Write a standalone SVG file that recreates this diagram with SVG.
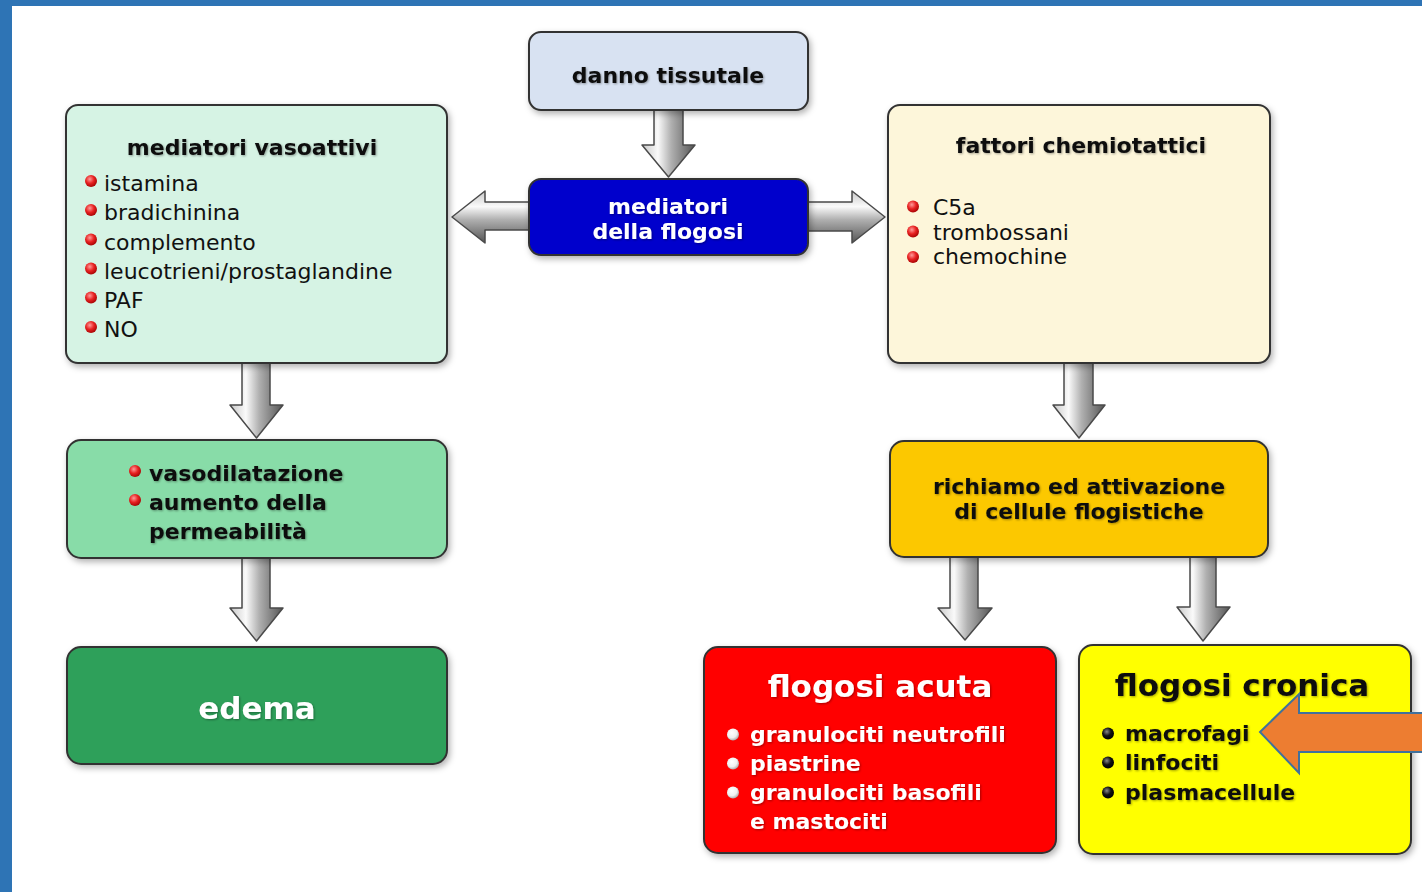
<svg xmlns="http://www.w3.org/2000/svg" width="1422" height="892" viewBox="0 0 1422 892">
<defs>
<style>
.box{stroke:#333;stroke-width:2}
.t{font-family:"DejaVu Sans","Liberation Sans",sans-serif;font-size:22px}
.b{font-weight:bold}
.big{font-size:31px;font-weight:bold}
.arr{stroke:#4a4a4a;stroke-width:1.5;stroke-linejoin:round}
.v{fill:url(#gv)}
.h{fill:url(#gh)}
</style>
<filter id="sh" x="-10%" y="-10%" width="125%" height="130%">
<feDropShadow dx="2" dy="3" stdDeviation="3" flood-color="#000" flood-opacity="0.3"/>
</filter>
<filter id="ts" x="-5%" y="-20%" width="110%" height="150%">
<feDropShadow dx="1" dy="1" stdDeviation="1" flood-color="#000" flood-opacity="0.35"/>
</filter>
<linearGradient id="gv" x1="0" y1="0" x2="1" y2="0">
<stop offset="0" stop-color="#c8c8c8"/>
<stop offset="0.3" stop-color="#fafafa"/>
<stop offset="0.55" stop-color="#b0b0b0"/>
<stop offset="1" stop-color="#555"/>
</linearGradient>
<linearGradient id="gh" x1="0" y1="0" x2="0" y2="1">
<stop offset="0" stop-color="#c8c8c8"/>
<stop offset="0.3" stop-color="#fafafa"/>
<stop offset="0.55" stop-color="#b0b0b0"/>
<stop offset="1" stop-color="#555"/>
</linearGradient>
<radialGradient id="red" cx="0.4" cy="0.35" r="0.7">
<stop offset="0" stop-color="#ff9a9a"/>
<stop offset="0.5" stop-color="#e82222"/>
<stop offset="1" stop-color="#a00000"/>
</radialGradient>
<radialGradient id="wht" cx="0.4" cy="0.35" r="0.7">
<stop offset="0" stop-color="#ffffff"/>
<stop offset="0.6" stop-color="#f0f0f0"/>
<stop offset="1" stop-color="#a0a0a0"/>
</radialGradient>
<radialGradient id="blk" cx="0.4" cy="0.35" r="0.7">
<stop offset="0" stop-color="#888"/>
<stop offset="0.5" stop-color="#111"/>
<stop offset="1" stop-color="#000"/>
</radialGradient>
</defs>

<rect x="0" y="0" width="1422" height="892" fill="#fff"/>
<rect x="0" y="0" width="1422" height="6" fill="#2E74B5"/>
<rect x="0" y="0" width="12" height="892" fill="#2E74B5"/>

<g id="connectors">
<path class="arr v" d="M654,108 L683,108 L683,145 L695,145 L668.5,177 L642,145 L654,145 Z"/>
<path class="arr v" d="M242,361 L270,361 L270,405 L283,405 L256.5,438 L230,405 L242,405 Z"/>
<path class="arr v" d="M242,555 L270,555 L270,608 L283,608 L256.5,641 L230,608 L242,608 Z"/>
<path class="arr v" d="M1064,361 L1093,361 L1093,405 L1105,405 L1079,438 L1053,405 L1064,405 Z"/>
<path class="arr v" d="M950,555 L978,555 L978,608 L992,608 L965,640 L938,608 L950,608 Z"/>
<path class="arr v" d="M1190,555 L1216,555 L1216,607 L1230,607 L1203,641 L1177,607 L1190,607 Z"/>
<path class="arr h" d="M530,202 L530,230 L485,230 L485,243 L452,217 L485,191 L485,202 Z"/>
<path class="arr h" d="M806,202 L806,231 L852,231 L852,243 L885,217 L852,191 L852,202 Z"/>
</g>

<g id="danno">
<rect class="box" x="529" y="32" width="279" height="78" rx="12" fill="#d8e2f2" filter="url(#sh)"/>
<text class="t b" x="668" y="83" text-anchor="middle" fill="#111" filter="url(#ts)">danno tissutale</text>
</g>

<g id="mediatori">
<rect class="box" x="529" y="179" width="279" height="76" rx="12" fill="#0000cc" filter="url(#sh)"/>
<text class="t b" x="668" y="214" text-anchor="middle" fill="#fff" filter="url(#ts)">mediatori</text>
<text class="t b" x="668" y="239" text-anchor="middle" fill="#fff" filter="url(#ts)">della flogosi</text>
</g>

<g id="vasoattivi">
<rect class="box" x="66" y="105" width="381" height="258" rx="12" fill="#d6f3e4" filter="url(#sh)"/>
<text class="t b" x="252" y="155" text-anchor="middle" fill="#111" filter="url(#ts)">mediatori vasoattivi</text>
<g fill="url(#red)">
<circle cx="91" cy="181" r="6"/><circle cx="91" cy="210" r="6"/><circle cx="91" cy="239.5" r="6"/>
<circle cx="91" cy="268.5" r="6"/><circle cx="91" cy="297.5" r="6"/><circle cx="91" cy="327" r="6"/>
</g>
<g class="t" fill="#111">
<text x="104" y="191">istamina</text>
<text x="104" y="220">bradichinina</text>
<text x="104" y="249.5">complemento</text>
<text x="104" y="278.5">leucotrieni/prostaglandine</text>
<text x="104" y="307.5">PAF</text>
<text x="104" y="337">NO</text>
</g>
</g>

<g id="fattori">
<rect class="box" x="888" y="105" width="382" height="258" rx="12" fill="#fdf6da" filter="url(#sh)"/>
<text class="t b" x="1081" y="153" text-anchor="middle" fill="#111" filter="url(#ts)">fattori chemiotattici</text>
<g fill="url(#red)">
<circle cx="913" cy="206.5" r="6"/><circle cx="913" cy="231.5" r="6"/><circle cx="913" cy="257" r="6"/>
</g>
<g class="t" fill="#111">
<text x="933" y="215">C5a</text>
<text x="933" y="239.5">trombossani</text>
<text x="933" y="264">chemochine</text>
</g>
</g>

<g id="vasodilatazione">
<rect class="box" x="67" y="440" width="380" height="118" rx="14" fill="#88dca8" filter="url(#sh)"/>
<g fill="url(#red)">
<circle cx="135" cy="471" r="6"/><circle cx="135" cy="500" r="6"/>
</g>
<g class="t b" fill="#111" filter="url(#ts)">
<text x="149" y="481">vasodilatazione</text>
<text x="149" y="510">aumento della</text>
<text x="149" y="539">permeabilità</text>
</g>
</g>

<g id="edema">
<rect class="box" x="67" y="647" width="380" height="117" rx="14" fill="#2fa05a" filter="url(#sh)"/>
<text class="t big" x="257" y="719" text-anchor="middle" fill="#fff" filter="url(#ts)">edema</text>
</g>

<g id="richiamo">
<rect class="box" x="890" y="441" width="378" height="116" rx="14" fill="#fcc800" filter="url(#sh)"/>
<text class="t b" x="1079" y="494" text-anchor="middle" fill="#111" filter="url(#ts)">richiamo ed attivazione</text>
<text class="t b" x="1079" y="518.5" text-anchor="middle" fill="#111" filter="url(#ts)">di cellule flogistiche</text>
</g>

<g id="acuta">
<rect class="box" x="704" y="647" width="352" height="206" rx="14" fill="#ff0000" filter="url(#sh)"/>
<text class="t big" x="880" y="697" text-anchor="middle" fill="#fff" filter="url(#ts)">flogosi acuta</text>
<g fill="url(#wht)">
<circle cx="733" cy="734.5" r="6"/><circle cx="733" cy="763.5" r="6"/><circle cx="733" cy="792.5" r="6"/>
</g>
<g class="t b" fill="#fff" filter="url(#ts)">
<text x="750" y="742">granulociti neutrofili</text>
<text x="750" y="771">piastrine</text>
<text x="750" y="800">granulociti basofili</text>
<text x="750" y="829">e mastociti</text>
</g>
</g>

<g id="cronica">
<rect class="box" x="1079" y="645" width="332" height="209" rx="14" fill="#ffff00" filter="url(#sh)"/>
<text class="t big" x="1242" y="696" text-anchor="middle" fill="#111" filter="url(#ts)">flogosi cronica</text>
<g fill="url(#blk)">
<circle cx="1108" cy="733.5" r="6"/><circle cx="1108" cy="762.5" r="6"/><circle cx="1108" cy="792.5" r="6"/>
</g>
<g class="t b" fill="#111" filter="url(#ts)">
<text x="1125" y="741">macrofagi</text>
<text x="1125" y="770">linfociti</text>
<text x="1125" y="800">plasmacellule</text>
</g>
</g>

<g id="orange-arrow">
<path d="M1260,732 L1299,694 L1299,713 L1426,713 L1426,752 L1299,752 L1299,773 Z" fill="#ED7D31" stroke="#41719C" stroke-width="2" stroke-linejoin="miter"/>
</g>
</svg>
